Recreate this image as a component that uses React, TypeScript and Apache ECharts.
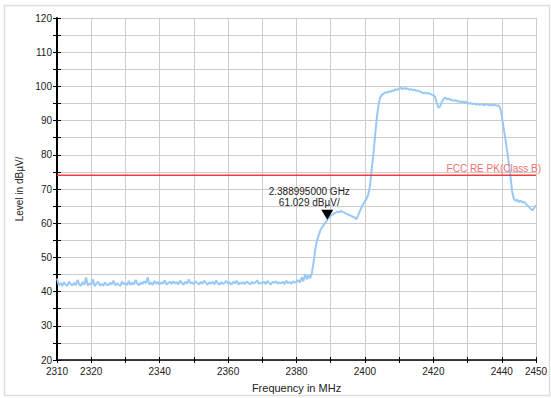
import React, { useEffect, useRef } from "react";
import * as echarts from "echarts";

// Spectrum trace: level in dBµV, sampled every 0.5 MHz from 2310 MHz to 2450 MHz
const FREQ_START = 2310;
const FREQ_STEP = 0.5;
const LEVELS: number[] = [
  43.8, 41.9, 42.5, 41.6, 42.8, 42.0, 41.7, 42.9, 42.2, 41.8,
  42.6, 41.9, 43.4, 42.1, 41.7, 42.8, 42.0, 44.1, 41.8, 42.4,
  42.0, 43.6, 41.6, 42.3, 42.9, 41.8, 42.2, 41.7, 42.7, 42.0,
  41.9, 42.6, 42.1, 43.2, 41.8, 42.4, 42.0, 41.7, 42.9, 42.2,
  42.5, 41.9, 43.1, 42.0, 42.6, 42.1, 43.4, 42.3, 41.9, 42.7,
  42.2, 43.0, 42.4, 44.2, 42.1, 42.6, 42.0, 43.1, 42.3, 42.8,
  42.1, 42.7, 42.3, 43.3, 42.0, 42.5, 42.9, 42.2, 43.0, 42.4,
  42.8, 42.1, 43.2, 42.5, 42.0, 42.9, 42.3, 43.6, 42.4, 42.7,
  42.2, 43.0, 42.5, 42.1, 42.8, 42.3, 43.2, 42.6, 42.0, 42.7,
  42.3, 42.9, 42.1, 43.3, 42.4, 42.0, 42.8, 42.2, 42.6, 43.1,
  42.3, 42.7, 42.0, 42.9, 42.4, 43.2, 42.1, 42.6, 42.3, 42.8,
  42.2, 43.0, 42.5, 42.1, 42.9, 42.4, 42.7, 43.3, 42.2, 42.6,
  42.4, 42.9, 42.2, 43.1, 42.5, 42.1, 42.8, 42.6, 43.0, 42.3,
  42.7, 42.4, 42.9, 42.2, 43.2, 42.5, 42.8, 42.3, 43.0, 42.6,
  42.9, 43.4, 42.7, 44.2, 43.0, 45.1, 43.6, 44.8, 43.9, 45.5,
  48.5, 52.5, 55.0, 56.5, 58.0, 58.8, 59.5, 60.3, 61.0, 61.6,
  62.2, 62.5, 62.9, 63.1, 63.4, 63.2, 63.6, 63.3, 63.1, 62.8,
  62.6, 62.4, 62.1, 61.9, 61.6, 61.2, 62.3, 63.5, 64.6, 65.6,
  66.4, 67.2, 68.5, 71.0, 76.0, 80.5, 86.0, 91.0, 94.8, 96.8,
  97.6, 97.9, 98.3, 98.1, 98.6, 98.4, 98.8, 98.7, 99.2, 98.9,
  99.4, 99.6, 99.2, 99.5, 99.3, 99.4, 99.0, 99.2, 98.9, 99.0,
  98.7, 98.8, 98.5, 98.3, 98.0, 98.2, 97.9, 98.1, 97.8, 97.6,
  97.5, 97.0, 95.2, 93.8, 94.2, 95.5, 96.3, 96.8, 96.2, 96.4,
  96.1, 96.0, 95.8, 96.0, 95.6, 95.7, 95.4, 95.6, 95.3, 95.5,
  95.2, 95.0, 95.1, 94.8, 95.0, 94.7, 94.9, 94.6, 94.8, 94.7,
  94.5, 94.8, 94.6, 94.4, 94.7, 94.5, 94.6, 94.3, 94.5, 93.8,
  91.5, 88.0, 85.0, 81.5, 78.0, 74.0, 69.5, 67.2, 66.5, 66.8,
  66.2, 66.6, 66.0, 66.3, 65.7, 65.2, 64.8, 64.2, 63.7, 64.5,
  65.3,
];

const LIMIT_LEVEL = 74;
const LIMIT_NAME = "FCC RE PK(Class B)";
const MARKER_FREQ = 2388.995;
const MARKER_LEVEL = 61.029;
const MARKER_LABEL = ["2.388995000 GHz", "61.029 dBµV/"];

const X_MIN = 2310;
const X_MAX = 2450;
const X_TICK = 10;
const X_LABELS = [2310, 2320, 2340, 2360, 2380, 2400, 2420, 2440, 2450];
const Y_MIN = 20;
const Y_MAX = 120;
const Y_TICK = 5;
const Y_LABELS = [20, 30, 40, 50, 60, 70, 80, 90, 100, 110, 120];

const FONT = "Liberation Sans, Arial, Helvetica, sans-serif";
const RED = "#f43c3c";

export default function App() {
  const ref = useRef<HTMLDivElement>(null);
  useEffect(() => {
    if (!ref.current) return;
    const chart = echarts.init(ref.current, undefined, { renderer: "svg" });
    const data = LEVELS.map((v, i) => [FREQ_START + i * FREQ_STEP, v]);
    const xBase = {
      type: "value" as const,
      min: X_MIN,
      max: X_MAX,
      interval: X_TICK,
      position: "bottom" as const,
    };
    const yBase = {
      type: "value" as const,
      min: Y_MIN,
      max: Y_MAX,
      interval: Y_TICK,
      position: "left" as const,
    };
    chart.setOption({
      animation: false,
      backgroundColor: "#fff",
      textStyle: { fontFamily: FONT },
      grid: { left: 57, right: 15, top: 18, bottom: 35 },
      graphic: [
        {
          type: "rect",
          shape: { x: 4.5, y: 5.5, width: 545, height: 390 },
          style: { fill: "none", stroke: "#dedede", lineWidth: 1.5 },
          silent: true,
          z: -10,
        },
      ],
      xAxis: [
        {
          ...xBase,
          name: "Frequency in MHz",
          nameLocation: "middle",
          nameGap: 22,
          nameTextStyle: { fontSize: 11, color: "#222", fontFamily: FONT },
          axisLine: { show: true, onZero: false, lineStyle: { color: "#000", width: 1.5 } },
          axisTick: { show: true, length: 3, lineStyle: { color: "#000", width: 1 } },
          axisLabel: {
            fontSize: 10,
            color: "#222",
            margin: 6,
            fontFamily: FONT,
            formatter: (v: number) => (X_LABELS.includes(v) ? String(v) : ""),
          },
          splitLine: { show: true, lineStyle: { color: "#cccccc", width: 1 } },
        },
        {
          ...xBase,
          offset: 0,
          axisLine: { show: false, onZero: false },
          axisTick: { show: true, inside: true, length: 3, lineStyle: { color: "#000", width: 1 } },
          axisLabel: { show: false },
          splitLine: { show: false },
        },
      ],
      yAxis: [
        {
          ...yBase,
          name: "Level in dBµV/",
          nameLocation: "middle",
          nameGap: 28,
          nameRotate: 90,
          nameTextStyle: { fontSize: 10, color: "#222", fontFamily: FONT },
          axisLine: { show: true, onZero: false, lineStyle: { color: "#000", width: 2 } },
          axisTick: { show: true, length: 4, lineStyle: { color: "#000", width: 1 } },
          axisLabel: {
            fontSize: 10,
            color: "#222",
            margin: 5,
            fontFamily: FONT,
            formatter: (v: number) => (Y_LABELS.includes(v) ? String(v) : ""),
          },
          splitLine: { show: true, lineStyle: { color: "#cccccc", width: 1 } },
        },
        {
          ...yBase,
          offset: 0,
          axisLine: { show: false, onZero: false },
          axisTick: { show: true, inside: true, length: 4, lineStyle: { color: "#000", width: 1 } },
          axisLabel: { show: false },
          splitLine: { show: false },
        },
      ],
      series: [
        {
          name: "trace",
          type: "line",
          xAxisIndex: 0,
          yAxisIndex: 0,
          data,
          showSymbol: false,
          symbol: "none",
          lineStyle: { color: "#99c9f6", width: 2 },
          itemStyle: { color: "#99c9f6" },
          z: 3,
          markPoint: {
            silent: true,
            data: [
              {
                coord: [MARKER_FREQ, MARKER_LEVEL],
                symbol: "triangle",
                symbolRotate: 180,
                symbolSize: [12, 10],
                symbolOffset: [0, -5],
                itemStyle: { color: "#000" },
                label: {
                  show: true,
                  position: "top",
                  distance: 2,
                  offset: [-18, 0],
                  formatter: MARKER_LABEL.join("\n"),
                  color: "#222",
                  fontSize: 10,
                  lineHeight: 11,
                  align: "center",
                  fontFamily: FONT,
                },
              },
            ],
          },
        },
        {
          name: "limit",
          type: "line",
          xAxisIndex: 0,
          yAxisIndex: 0,
          silent: true,
          z: 5,
          symbol: "circle",
          symbolSize: 0,
          showSymbol: true,
          lineStyle: { color: RED, width: 1.5 },
          itemStyle: { color: RED },
          data: [
            { value: [X_MIN, LIMIT_LEVEL], label: { show: false } },
            {
              value: [X_MAX, LIMIT_LEVEL],
              label: {
                show: true,
                position: "top",
                align: "right",
                distance: 2,
                offset: [5, 0],
                formatter: LIMIT_NAME,
                color: "#f07070",
                fontSize: 10,
                fontFamily: FONT,
              },
            },
          ],
        },
      ],
    });
    return () => chart.dispose();
  }, []);
  return (
    <div
      ref={ref}
      style={{ position: "fixed", left: 0, top: 0, width: 551, height: 398 }}
    />
  );
}
